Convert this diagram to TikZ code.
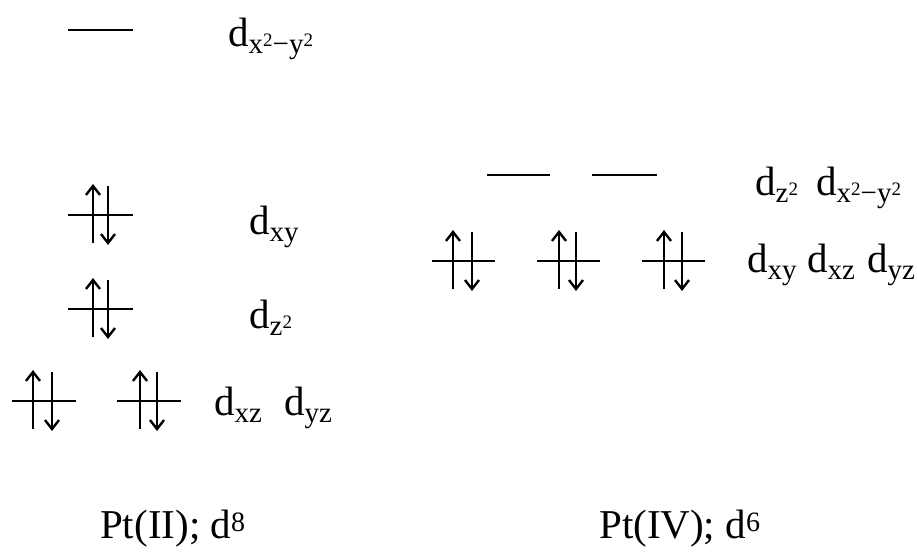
\documentclass[tikz,border=0pt]{standalone}
\usepackage{fontspec}
\setmainfont{Liberation Serif}
\usetikzlibrary{arrows.meta}
\newcommand\lsub[1]{\raisebox{-7pt}{\fontsize{29}{29}\selectfont #1}}
\newcommand\lsup[1]{\raisebox{7pt}{\fontsize{19}{19}\selectfont #1}}
\newcommand\bsup[1]{\raisebox{7pt}{\fontsize{28}{28}\selectfont #1}}
\newcommand\orbline[3]{\draw[lvl] (#1,#3) -- (#2,#3);}
\newcommand\epair[3]{%
  \draw[spin] (#1,#3+28) -- (#1,#3-31);
  \draw[spin] (#2,#3-29) -- (#2,#3+30);}
\tikzset{
  lvl/.style={line width=2.6pt},
  spin/.style={line width=2.6pt,-{Straight Barb[length=9pt,width=14pt,line width=2.4pt]}},
  lab/.style={anchor=base west,inner sep=0pt,font=\fontsize{41}{45}\selectfont}
}
\begin{document}
\begin{tikzpicture}[x=1pt,y=-1pt]
\useasboundingbox (0,0) rectangle (917,553);
% Pt(II)
\orbline{68}{133}{30}
\node[lab] (l1) at (228,47) {d\lsub{x\lsup{2}−y\lsup{2}}};
\orbline{68}{133}{215}
\epair{93}{108}{215}
\node[lab] (l2) at (249,234) {d\lsub{xy}};
\orbline{68}{133}{309}
\epair{93}{108}{309}
\node[lab] (l3) at (249,328) {d\lsub{z\lsup{2}}};
\orbline{12}{76}{401}
\epair{33}{52}{401}
\orbline{117}{181}{401}
\epair{140}{157}{401}
\node[lab] (l4) at (214,415) {d\lsub{xz}};
\node[lab] (l5) at (284,415) {d\lsub{yz}};
% Pt(IV)
\orbline{487}{550}{175}
\orbline{592}{657}{175}
\node[lab] (r1) at (755,196) {d\lsub{z\lsup{2}}};
\node[lab] (r2) at (816,196) {d\lsub{x\lsup{2}−y\lsup{2}}};
\orbline{432}{495}{261}
\epair{453}{472}{261}
\orbline{537}{600}{261}
\epair{559}{576}{261}
\orbline{642}{705}{261}
\epair{664}{682}{261}
\node[lab] (r3) at (747,272) {d\lsub{xy}};
\node[lab] (r4) at (807,272) {d\lsub{xz}};
\node[lab] (r5) at (867,272) {d\lsub{yz}};
% captions
\node[lab] (c1) at (100,538) {Pt(II); d\bsup{8}};
\node[lab] (c2) at (599,538) {Pt(IV); d\bsup{6}};
\end{tikzpicture}
\end{document}
